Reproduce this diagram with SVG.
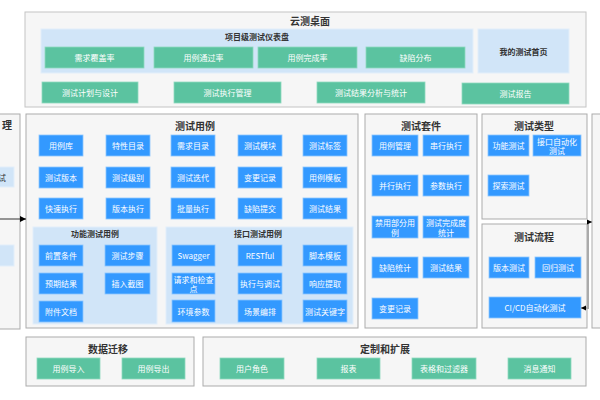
<svg xmlns="http://www.w3.org/2000/svg" width="600" height="400" viewBox="0 0 600 400">
<style>
text{font-family:"Noto Sans CJK SC","Liberation Sans",sans-serif;text-anchor:middle;dominant-baseline:central}
.panel{fill:#f6f6f6;stroke:#ababab;stroke-width:1}
.sub{fill:#d1e5f8;stroke:#e2eefa;stroke-width:1}
.g{fill:#5bc3a0;stroke:#8fd9bf;stroke-width:0.8}
.b{fill:#3399ff;stroke:#8cc6ff;stroke-width:0.8}
.t{font-size:8px;fill:#ffffff}
.h{font-size:10px;font-weight:bold;fill:#333333}
.hs{font-size:8px;font-weight:bold;fill:#333333}
.conn{fill:none;stroke:#333333;stroke-width:1}
.conn2{fill:none;stroke:#aaaaaa;stroke-width:2}
</style>
<defs>
<marker id="ah" viewBox="0 0 10 10" refX="10" refY="5" markerWidth="6" markerHeight="6" orient="auto" markerUnits="userSpaceOnUse">
<path d="M0,0 L10,5 L0,10 z" fill="#000000"/>
</marker>
</defs>
<rect width="600" height="400" fill="#ffffff"/>

<g id="desktop">
<rect class="panel" x="25" y="12" width="561" height="95" style="stroke:#c4c4c4"/>
<text class="h" x="310" y="20">云测桌面</text>
</g>
<g id="dashboard">
<rect class="sub" x="41" y="29" width="432" height="44"/>
<text class="hs" x="257" y="36">项目级测试仪表盘</text>
</g>
<g id="n-cov"><rect class="g" x="45" y="47" width="99" height="21"/><text class="t" x="94.5" y="57.5">需求覆盖率</text></g>
<g id="n-pass"><rect class="g" x="154" y="47" width="99" height="21"/><text class="t" x="203.5" y="57.5">用例通过率</text></g>
<g id="n-done"><rect class="g" x="258" y="47" width="99" height="21"/><text class="t" x="307.5" y="57.5">用例完成率</text></g>
<g id="n-bug"><rect class="g" x="366" y="47" width="99" height="21"/><text class="t" x="415.5" y="57.5">缺陷分布</text></g>
<g id="n-home"><rect class="sub" x="478" y="29" width="91" height="44"/><text class="hs" x="523.5" y="51">我的测试首页</text></g>
<g id="n-plan"><rect class="g" x="42" y="82" width="96" height="21"/><text class="t" x="90" y="92.5">测试计划与设计</text></g>
<g id="n-exec"><rect class="g" x="174" y="82" width="107" height="21"/><text class="t" x="227.5" y="92.5">测试执行管理</text></g>
<g id="n-ana"><rect class="g" x="317" y="82" width="108" height="21"/><text class="t" x="371" y="92.5">测试结果分析与统计</text></g>
<g id="n-rep"><rect class="g" x="462" y="83" width="107" height="21"/><text class="t" x="515.5" y="93.5">测试报告</text></g>

<g id="left-panel">
<rect class="panel" x="-10" y="114" width="30" height="215"/>
<text class="h" x="7" y="124">理</text>
<rect class="sub" x="-10" y="167" width="24" height="20"/>
<text class="t" x="6" y="177" style="text-anchor:end;fill:#333333">试</text>
<rect class="sub" x="-10" y="245" width="24" height="21"/>
</g>

<g id="testcase">
<rect class="panel" x="26" y="114" width="332" height="214"/>
<text class="h" x="195" y="125">测试用例</text>
</g>
<g id="c11"><rect class="b" x="39" y="135" width="44" height="21"/><text class="t" x="61" y="145.5">用例库</text></g>
<g id="c12"><rect class="b" x="106" y="135" width="44" height="21"/><text class="t" x="128" y="145.5">特性目录</text></g>
<g id="c13"><rect class="b" x="171" y="135" width="44" height="21"/><text class="t" x="193" y="145.5">需求目录</text></g>
<g id="c14"><rect class="b" x="238" y="135" width="44" height="21"/><text class="t" x="260" y="145.5">测试模块</text></g>
<g id="c15"><rect class="b" x="303" y="135" width="44" height="21"/><text class="t" x="325" y="145.5">测试标签</text></g>
<g id="c21"><rect class="b" x="39" y="167" width="44" height="21"/><text class="t" x="61" y="177.5">测试版本</text></g>
<g id="c22"><rect class="b" x="106" y="167" width="44" height="21"/><text class="t" x="128" y="177.5">测试级别</text></g>
<g id="c23"><rect class="b" x="171" y="167" width="44" height="21"/><text class="t" x="193" y="177.5">测试迭代</text></g>
<g id="c24"><rect class="b" x="238" y="167" width="44" height="21"/><text class="t" x="260" y="177.5">变更记录</text></g>
<g id="c25"><rect class="b" x="303" y="167" width="44" height="21"/><text class="t" x="325" y="177.5">用例模板</text></g>
<g id="c31"><rect class="b" x="39" y="198" width="44" height="21"/><text class="t" x="61" y="208.5">快速执行</text></g>
<g id="c32"><rect class="b" x="106" y="198" width="44" height="21"/><text class="t" x="128" y="208.5">版本执行</text></g>
<g id="c33"><rect class="b" x="171" y="198" width="44" height="21"/><text class="t" x="193" y="208.5">批量执行</text></g>
<g id="c34"><rect class="b" x="238" y="198" width="44" height="21"/><text class="t" x="260" y="208.5">缺陷提交</text></g>
<g id="c35"><rect class="b" x="303" y="198" width="44" height="21"/><text class="t" x="325" y="208.5">测试结果</text></g>

<g id="func">
<rect class="sub" x="33" y="227" width="124" height="97"/>
<text class="hs" x="95" y="233">功能测试用例</text>
</g>
<g id="f1"><rect class="b" x="39" y="245" width="44" height="21"/><text class="t" x="61" y="255.5">前置条件</text></g>
<g id="f2"><rect class="b" x="105" y="245" width="45" height="21"/><text class="t" x="127.5" y="255.5">测试步骤</text></g>
<g id="f3"><rect class="b" x="39" y="273" width="44" height="21"/><text class="t" x="61" y="283.5">预期结果</text></g>
<g id="f4"><rect class="b" x="105" y="273" width="45" height="21"/><text class="t" x="127.5" y="283.5">插入截图</text></g>
<g id="f5"><rect class="b" x="39" y="301" width="44" height="21"/><text class="t" x="61" y="311.5">附件文档</text></g>

<g id="api">
<rect class="sub" x="166" y="227" width="187" height="97"/>
<text class="hs" x="258" y="233">接口测试用例</text>
</g>
<g id="a1"><rect class="b" x="172" y="245" width="43" height="21"/><text class="t" x="193.5" y="255.5">Swagger</text></g>
<g id="a2"><rect class="b" x="238" y="245" width="44" height="21"/><text class="t" x="260" y="255.5">RESTful</text></g>
<g id="a3"><rect class="b" x="303" y="245" width="44" height="21"/><text class="t" x="325" y="255.5">脚本模板</text></g>
<g id="a4"><rect class="b" x="172" y="273" width="43" height="21"/><text class="t" x="193.5" y="279">请求和检查</text><text class="t" x="193.5" y="288.5">点</text></g>
<g id="a5"><rect class="b" x="238" y="273" width="44" height="21"/><text class="t" x="260" y="283.5">执行与调试</text></g>
<g id="a6"><rect class="b" x="303" y="273" width="44" height="21"/><text class="t" x="325" y="283.5">响应提取</text></g>
<g id="a7"><rect class="b" x="172" y="300" width="43" height="22"/><text class="t" x="193.5" y="311">环境参数</text></g>
<g id="a8"><rect class="b" x="238" y="300" width="44" height="22"/><text class="t" x="260" y="311">场景编排</text></g>
<g id="a9"><rect class="b" x="303" y="300" width="44" height="22"/><text class="t" x="325" y="311">测试关键字</text></g>

<g id="suite">
<rect class="panel" x="365" y="114" width="112" height="214"/>
<text class="h" x="421" y="125">测试套件</text>
</g>
<g id="s1"><rect class="b" x="372" y="135" width="46" height="21"/><text class="t" x="395" y="145.5">用例管理</text></g>
<g id="s2"><rect class="b" x="423" y="135" width="46" height="21"/><text class="t" x="446" y="145.5">串行执行</text></g>
<g id="s3"><rect class="b" x="372" y="175" width="46" height="21"/><text class="t" x="395" y="185.5">并行执行</text></g>
<g id="s4"><rect class="b" x="423" y="175" width="46" height="21"/><text class="t" x="446" y="185.5">参数执行</text></g>
<g id="s5"><rect class="b" x="372" y="216" width="46" height="22"/><text class="t" x="395" y="222">禁用部分用</text><text class="t" x="395" y="232">例</text></g>
<g id="s6"><rect class="b" x="423" y="216" width="46" height="22"/><text class="t" x="446" y="222">测试完成度</text><text class="t" x="446" y="232">统计</text></g>
<g id="s7"><rect class="b" x="372" y="257" width="46" height="21"/><text class="t" x="395" y="267.5">缺陷统计</text></g>
<g id="s8"><rect class="b" x="423" y="257" width="46" height="21"/><text class="t" x="446" y="267.5">测试结果</text></g>
<g id="s9"><rect class="b" x="372" y="298" width="46" height="21"/><text class="t" x="395" y="308.5">变更记录</text></g>

<g id="types">
<rect class="panel" x="482" y="114" width="105" height="105"/>
<text class="h" x="534" y="125">测试类型</text>
</g>
<g id="ty1"><rect class="b" x="488" y="135" width="41" height="21"/><text class="t" x="508.5" y="145.5">功能测试</text></g>
<g id="ty2"><rect class="b" x="533" y="135" width="48" height="21"/><text class="t" x="557" y="141">接口自动化</text><text class="t" x="557" y="150.5">测试</text></g>
<g id="ty3"><rect class="b" x="488" y="175" width="41" height="21"/><text class="t" x="508.5" y="185.5">探索测试</text></g>

<g id="flow">
<rect class="panel" x="482" y="224" width="105" height="104"/>
<text class="h" x="534" y="236">测试流程</text>
</g>
<g id="fl1"><rect class="b" x="489" y="257" width="40" height="21"/><text class="t" x="509" y="267.5">版本测试</text></g>
<g id="fl2"><rect class="b" x="535" y="257" width="46" height="21"/><text class="t" x="558" y="267.5">回归测试</text></g>
<g id="fl3"><rect class="b" x="489" y="297" width="92" height="21"/><text class="t" x="535" y="307.5">CI/CD自动化测试</text></g>

<g id="right-panel">
<rect class="panel" x="592" y="114" width="20" height="214"/>
</g>

<g id="migrate">
<rect class="panel" x="26" y="337" width="168" height="49"/>
<text class="h" x="108" y="348">数据迁移</text>
</g>
<g id="m1"><rect class="g" x="37" y="358" width="63" height="21"/><text class="t" x="68.5" y="368.5">用例导入</text></g>
<g id="m2"><rect class="g" x="122" y="358" width="63" height="21"/><text class="t" x="153.5" y="368.5">用例导出</text></g>

<g id="custom">
<rect class="panel" x="203" y="337" width="383" height="49"/>
<text class="h" x="385" y="348">定制和扩展</text>
</g>
<g id="x1"><rect class="g" x="220" y="358" width="64" height="21"/><text class="t" x="252" y="368.5">用户角色</text></g>
<g id="x2"><rect class="g" x="317" y="358" width="63" height="21"/><text class="t" x="348.5" y="368.5">报表</text></g>
<g id="x3"><rect class="g" x="412" y="358" width="64" height="21"/><text class="t" x="444" y="368.5">表格和过滤器</text></g>
<g id="x4"><rect class="g" x="508" y="358" width="63" height="21"/><text class="t" x="539.5" y="368.5">消息通知</text></g>

<g id="connectors">
<path class="conn" d="M0,219 L26,219" marker-end="url(#ah)"/>
<path class="conn2" d="M592,222 L588,222 L588,308 L581,308"/>
<path d="M581,308 L586,305.5 L586,310.5 z" fill="#000000"/>
<path d="M592,222 L587,219.5 L587,224.5 z" fill="#000000"/>
</g>
</svg>
